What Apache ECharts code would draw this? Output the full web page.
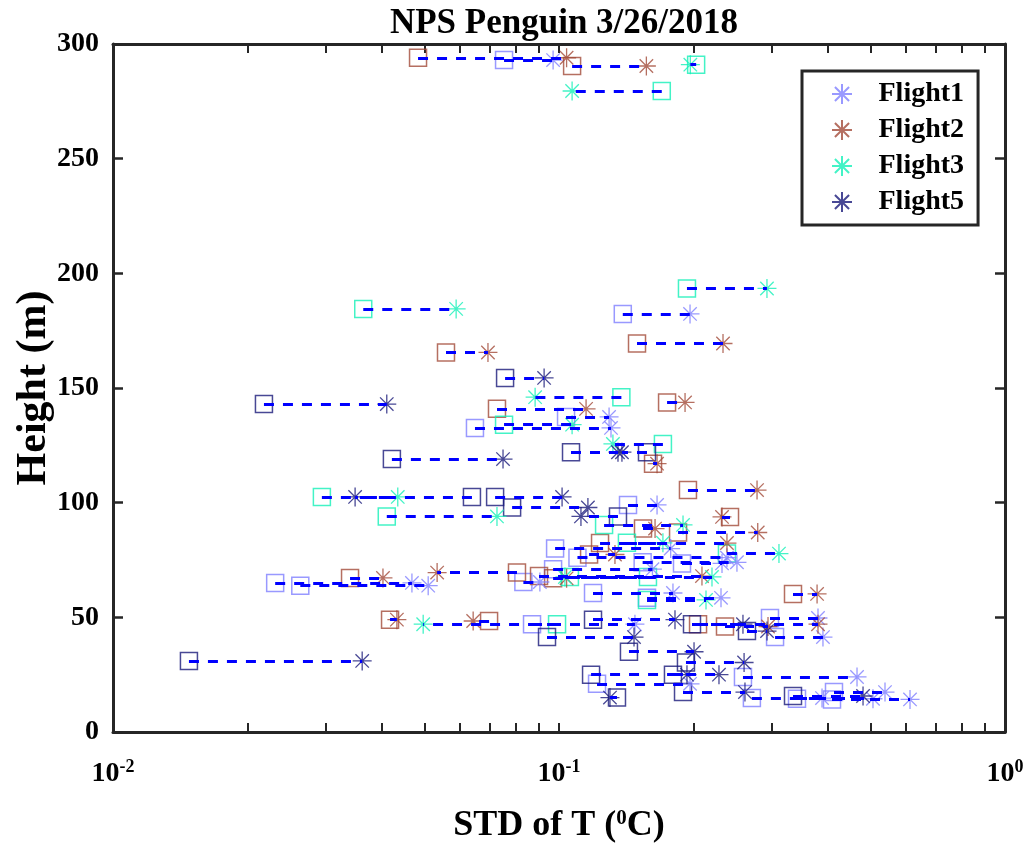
<!DOCTYPE html>
<html>
<head>
<meta charset="utf-8">
<script src="https://cdn.jsdelivr.net/npm/echarts@6/dist/echarts.min.js"></script>
<style>
html,body{margin:0;padding:0;background:#fff;}
#chart{width:1030px;height:846px;}
</style>
</head>
<body>
<div id="chart"></div>
<script>
// ---- Data (height in m, STD of T in degC) ----
const flightNames = ['Flight1', 'Flight2', 'Flight3', 'Flight5'];

const f1Height = [293, 182.3, 137.4, 132.6, 99, 80, 76, 74, 73.5, 71, 65, 63.8, 65.4, 60.6, 58.5, 49.7, 47, 41.4, 24, 21, 17.4, 14.8, 14.5, 14.2];
const f1Square = [0.0753, 0.139, 0.1037, 0.0648, 0.1428, 0.098, 0.110, 0.154, 0.1887, 0.097, 0.0231, 0.0263, 0.0832, 0.1192, 0.1575, 0.2972, 0.087, 0.3051, 0.2585, 0.1217, 0.4136, 0.2707, 0.3417, 0.4094];
const f1Star   = [0.097, 0.1967, 0.1295, 0.1308, 0.1659, 0.178, 0.238, 0.2506, 0.232, 0.162, 0.0468, 0.0509, 0.0906, 0.1801, 0.2308, 0.3808, 0.148, 0.3907, 0.4658, 0.1967, 0.5382, 0.3888, 0.5058, 0.6124];

const f2Height = [294, 290.4, 169.4, 165.5, 143.7, 140.9, 117, 105.5, 93.8, 88.7, 87, 82.4, 77.4, 69.5, 67.2, 68, 67, 60.2, 49, 48.4, 47, 46];
const f2Square = [0.0483, 0.107, 0.1496, 0.0558, 0.1747, 0.0726, 0.1625, 0.1946, 0.2418, 0.1543, 0.1849, 0.1236, 0.1168, 0.0805, 0.034, 0.0902, 0.097, 0.3347, 0.0418, 0.0697, 0.205, 0.2356];
const f2Star   = [0.104, 0.157, 0.2332, 0.0693, 0.1917, 0.115, 0.1659, 0.278, 0.232, 0.1642, 0.279, 0.238, 0.1335, 0.0533, 0.0403, 0.2092, 0.104, 0.379, 0.0433, 0.0642, 0.3808, 0.2942];

const f3Height = [291, 279.5, 193.4, 184.5, 146, 134, 125.6, 102.5, 94, 90.3, 82.5, 77.8, 67.6, 67.6, 57.6, 47];
const f3Square = [0.203, 0.170, 0.1936, 0.0364, 0.138, 0.0753, 0.171, 0.0294, 0.0411, 0.1262, 0.142, 0.238, 0.1058, 0.1583, 0.1575, 0.099];
const f3Star   = [0.197, 0.107, 0.2926, 0.0588, 0.0884, 0.107, 0.1321, 0.0435, 0.0726, 0.1897, 0.171, 0.3113, 0.2203, 0.1031, 0.2136, 0.0496];

const f5Height = [154.4, 143, 122, 122, 119, 102.5, 102.5, 97.9, 94, 49, 47, 44, 41.4, 35, 31, 30.3, 25, 25, 17.4, 15.7, 15];
const f5Square = [0.0757, 0.0218, 0.1064, 0.1575, 0.0422, 0.0638, 0.0719, 0.0785, 0.1356, 0.1192, 0.1987, 0.2639, 0.094, 0.1435, 0.0148, 0.1926, 0.118, 0.1801, 0.1897, 0.3347, 0.1349];
const f5Star   = [0.0926, 0.0411, 0.1356, 0.1384, 0.0749, 0.0349, 0.1016, 0.1161, 0.112, 0.182, 0.2585, 0.2927, 0.1473, 0.2008, 0.0362, 0.26, 0.2284, 0.1936, 0.2612, 0.4805, 0.1301];

const xMajorTicks = [0.01, 0.1, 1];
const xAllTicks = [0.01,0.02,0.03,0.04,0.05,0.06,0.07,0.08,0.09,0.1,0.2,0.3,0.4,0.5,0.6,0.7,0.8,0.9,1];
const yTicks = [0, 50, 100, 150, 200, 250, 300];

// ---- Styling ----
const colors = ['#8080ff', '#a24b3a', '#14f0b8', '#1a1a7a'];
const FONT = "'Liberation Serif', 'Times New Roman', serif";
const STAR = 'path://M0,10L20,10M10,0L10,20M2.93,2.93L17.07,17.07M17.07,2.93L2.93,17.07';
const AXC = '#262626';

const flights = [
  {h: f1Height, sq: f1Square, st: f1Star},
  {h: f2Height, sq: f2Square, st: f2Star},
  {h: f3Height, sq: f3Square, st: f3Star},
  {h: f5Height, sq: f5Square, st: f5Star}
];

const series = [];
flights.forEach((f, i) => {
  series.push({
    type: 'scatter', name: flightNames[i] + ' sq', symbol: 'rect', symbolSize: 17,
    itemStyle: {color: 'rgba(0,0,0,0)', borderColor: colors[i], borderWidth: 1.5},
    data: f.h.map((h, k) => [f.sq[k], h]), z: 2, silent: true
  });
  series.push({
    type: 'scatter', name: flightNames[i], symbol: STAR, symbolSize: 19,
    itemStyle: {color: 'rgba(0,0,0,0)', borderColor: colors[i], borderWidth: 1.3},
    data: f.h.map((h, k) => [f.st[k], h]), z: 3, silent: true
  });
});
flights.forEach((f, i) => {
  series.push({
    type: 'lines', coordinateSystem: 'cartesian2d', silent: true, z: 4,
    lineStyle: {color: '#0000ff', width: 2.8, type: [10, 9], opacity: 1},
    data: f.h.map((h, k) => ({coords: [[f.sq[k], h], [f.st[k], h]]}))
  });
});

const axisCommon = {
  axisLine: {show: true, onZero: false, lineStyle: {color: AXC, width: 3}},
  splitLine: {show: false}
};

const option = {
  animation: false,
  backgroundColor: '#fff',
  title: {
    text: 'NPS Penguin 3/26/2018', left: 559, top: 1, textAlign: 'center',
    textStyle: {fontFamily: FONT, fontWeight: 'bold', fontSize: 35, color: '#000'}
  },
  grid: {left: 113, right: 25, top: 44, bottom: 114, containLabel: false, outerBoundsMode: 'none'},
  legend: {
    data: flightNames, orient: 'vertical', left: 802, top: 71,
    itemWidth: 63, itemHeight: 20, itemGap: 8,
    padding: [9, 14, 9, 29],
    borderColor: AXC, borderWidth: 3, backgroundColor: '#fff',
    textStyle: {fontFamily: FONT, fontWeight: 'bold', fontSize: 28, color: '#000'}
  },
  xAxis: [
    Object.assign({
      type: 'log', logBase: 10, min: 0.01, max: 1, position: 'bottom',
      axisTick: {show: true, inside: true, length: 9, lineStyle: {color: AXC, width: 2}, customValues: xAllTicks},
      axisLabel: {
        customValues: xMajorTicks, margin: 26,
        formatter: v => '{n|10}{s|' + Math.round(Math.log10(v)) + '}',
        rich: {
          n: {fontFamily: FONT, fontWeight: 'bold', fontSize: 28, color: '#000', lineHeight: 32},
          s: {fontFamily: FONT, fontWeight: 'bold', fontSize: 18, color: '#000', verticalAlign: 'top', lineHeight: 18}
        }
      },
      name: 'STD of T ({s|0}C)', nameLocation: 'middle', nameGap: 76, nameMoveOverlap: false,
      nameTextStyle: {
        fontFamily: FONT, fontWeight: 'bold', fontSize: 36, color: '#000',
        rich: {s: {fontFamily: FONT, fontWeight: 'bold', fontSize: 21, color: '#000', verticalAlign: 'top', lineHeight: 20}}
      }
    }, axisCommon),
    Object.assign({
      type: 'log', logBase: 10, min: 0.01, max: 1, position: 'top',
      axisTick: {show: true, inside: true, length: 9, lineStyle: {color: AXC, width: 2}, customValues: xAllTicks},
      axisLabel: {show: false}
    }, axisCommon)
  ],
  yAxis: [
    Object.assign({
      type: 'value', min: 0, max: 300, interval: 50, position: 'left',
      axisTick: {show: true, inside: true, length: 10, lineStyle: {color: AXC, width: 2.5}},
      axisLabel: {customValues: yTicks, margin: 14, fontFamily: FONT, fontWeight: 'bold', fontSize: 28, color: '#000'},
      name: 'Height (m)', nameLocation: 'middle', nameGap: 58, nameMoveOverlap: false,
      nameTextStyle: {fontFamily: FONT, fontWeight: 'bold', fontSize: 42, color: '#000'}
    }, axisCommon),
    Object.assign({
      type: 'value', min: 0, max: 300, interval: 50, position: 'right',
      axisTick: {show: true, inside: true, length: 10, lineStyle: {color: AXC, width: 2.5}},
      axisLabel: {show: false}
    }, axisCommon)
  ],
  series: series
};

const chart = echarts.init(document.getElementById('chart'), null, {renderer: 'canvas'});
chart.setOption(option);
</script>
</body>
</html>
